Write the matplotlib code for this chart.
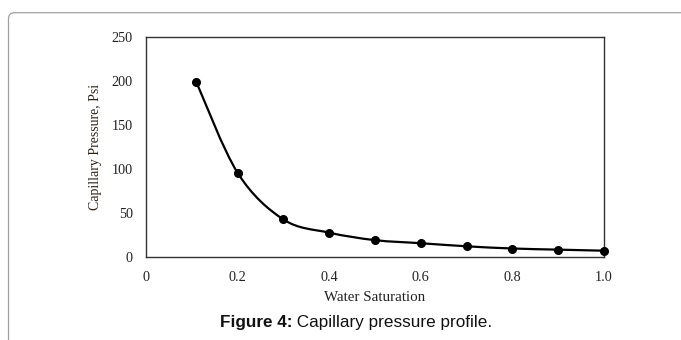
import numpy as np
import matplotlib
matplotlib.use("Agg")
import matplotlib.pyplot as plt
from matplotlib.path import Path
from matplotlib.patches import PathPatch, FancyBboxPatch
from matplotlib.transforms import IdentityTransform

# Data
water_saturation = [0.11, 0.2, 0.3, 0.4, 0.5, 0.6, 0.7, 0.8, 0.9, 1.0]
capillary_pressure = [199, 96, 43, 28, 19.5, 16, 12.5, 10, 8.7, 7.5]
x_ticks = [0, 0.2, 0.4, 0.6, 0.8, 1.0]
x_tick_labels = ["0", "0.2", "0.4", "0.6", "0.8", "1.0"]
y_ticks = [0, 50, 100, 150, 200, 250]

W, H = 681, 340
fig = plt.figure(figsize=(W / 100, H / 100), dpi=100)
fig.patch.set_facecolor("white")

# outer rounded panel border (pixel coordinates)
panel = FancyBboxPatch((8.5, -30), 720, (H - 12.7) + 30,
                       boxstyle="round,pad=0,rounding_size=6",
                       transform=IdentityTransform(), fill=False,
                       edgecolor="#a0a0a0", linewidth=0.9, clip_on=False)
fig.patches.append(panel)

ax = fig.add_axes([146 / W, 1 - 257.3 / H, (604 - 146) / W, 220 / H])

# smooth curve (Excel-like smoothed line) via Bezier segments through the data
xs = np.array(water_saturation, dtype=float)
ys = np.array(capillary_pressure, dtype=float)
n = len(xs)
verts = [(xs[0], ys[0])]
codes = [Path.MOVETO]
for i in range(n - 1):
    p0 = np.array([xs[max(i - 1, 0)], ys[max(i - 1, 0)]])
    p1 = np.array([xs[i], ys[i]])
    p2 = np.array([xs[i + 1], ys[i + 1]])
    p3 = np.array([xs[min(i + 2, n - 1)], ys[min(i + 2, n - 1)]])
    c1 = p1 + (p2 - p0) / 6.0
    c2 = p2 - (p3 - p1) / 6.0
    verts += [tuple(c1), tuple(c2), tuple(p2)]
    codes += [Path.CURVE4, Path.CURVE4, Path.CURVE4]
ax.add_patch(PathPatch(Path(verts, codes), facecolor="none", edgecolor="black",
                       linewidth=1.6, zorder=2))
ax.plot(xs, ys, linestyle="none", marker="o", markersize=5.5,
        color="black", zorder=3, clip_on=False)

ax.set_xlim(0, 1.0)
ax.set_ylim(0, 250)
ax.set_xticks(x_ticks)
ax.set_xticklabels(x_tick_labels)
ax.set_yticks(y_ticks)
ax.tick_params(axis="x", length=0, pad=10, labelsize=10.3, labelcolor="#222222")
ax.tick_params(axis="y", length=0, pad=9.5, labelsize=10.3, labelcolor="#222222")
for lab in ax.get_xticklabels() + ax.get_yticklabels():
    lab.set_fontfamily("Liberation Serif")
for sp in ax.spines.values():
    sp.set_color("#333333")
    sp.set_linewidth(1.0)

ax.set_xlabel("Water Saturation", fontfamily="Liberation Serif", fontsize=10.8,
              color="#222222")
ax.xaxis.set_label_coords(0.5, -0.152)
ax.set_ylabel("Capillary Pressure, Psi", fontfamily="Liberation Serif", fontsize=10,
              color="#2a2218")
ax.yaxis.set_label_coords(-0.097, 0.5)

# caption: bold prefix + regular text, centred as a whole
cap_y = 1 - 327 / H
t1 = fig.text(0, cap_y, "Figure 4:", fontfamily="Liberation Sans",
              fontweight="bold", fontsize=12.3, ha="left", va="baseline",
              color="#111111")
t2 = fig.text(0, cap_y, " Capillary pressure profile.", fontfamily="Liberation Sans",
              fontsize=12.3, ha="left", va="baseline", color="#111111")
fig.canvas.draw()
r = fig.canvas.get_renderer()
w1 = t1.get_window_extent(r).width
w2 = t2.get_window_extent(r).width
cx = 356.0
x0 = cx - (w1 + w2) / 2
t1.set_x(x0 / W)
t2.set_x((x0 + w1) / W)

fig.savefig("out.png", dpi=100)
